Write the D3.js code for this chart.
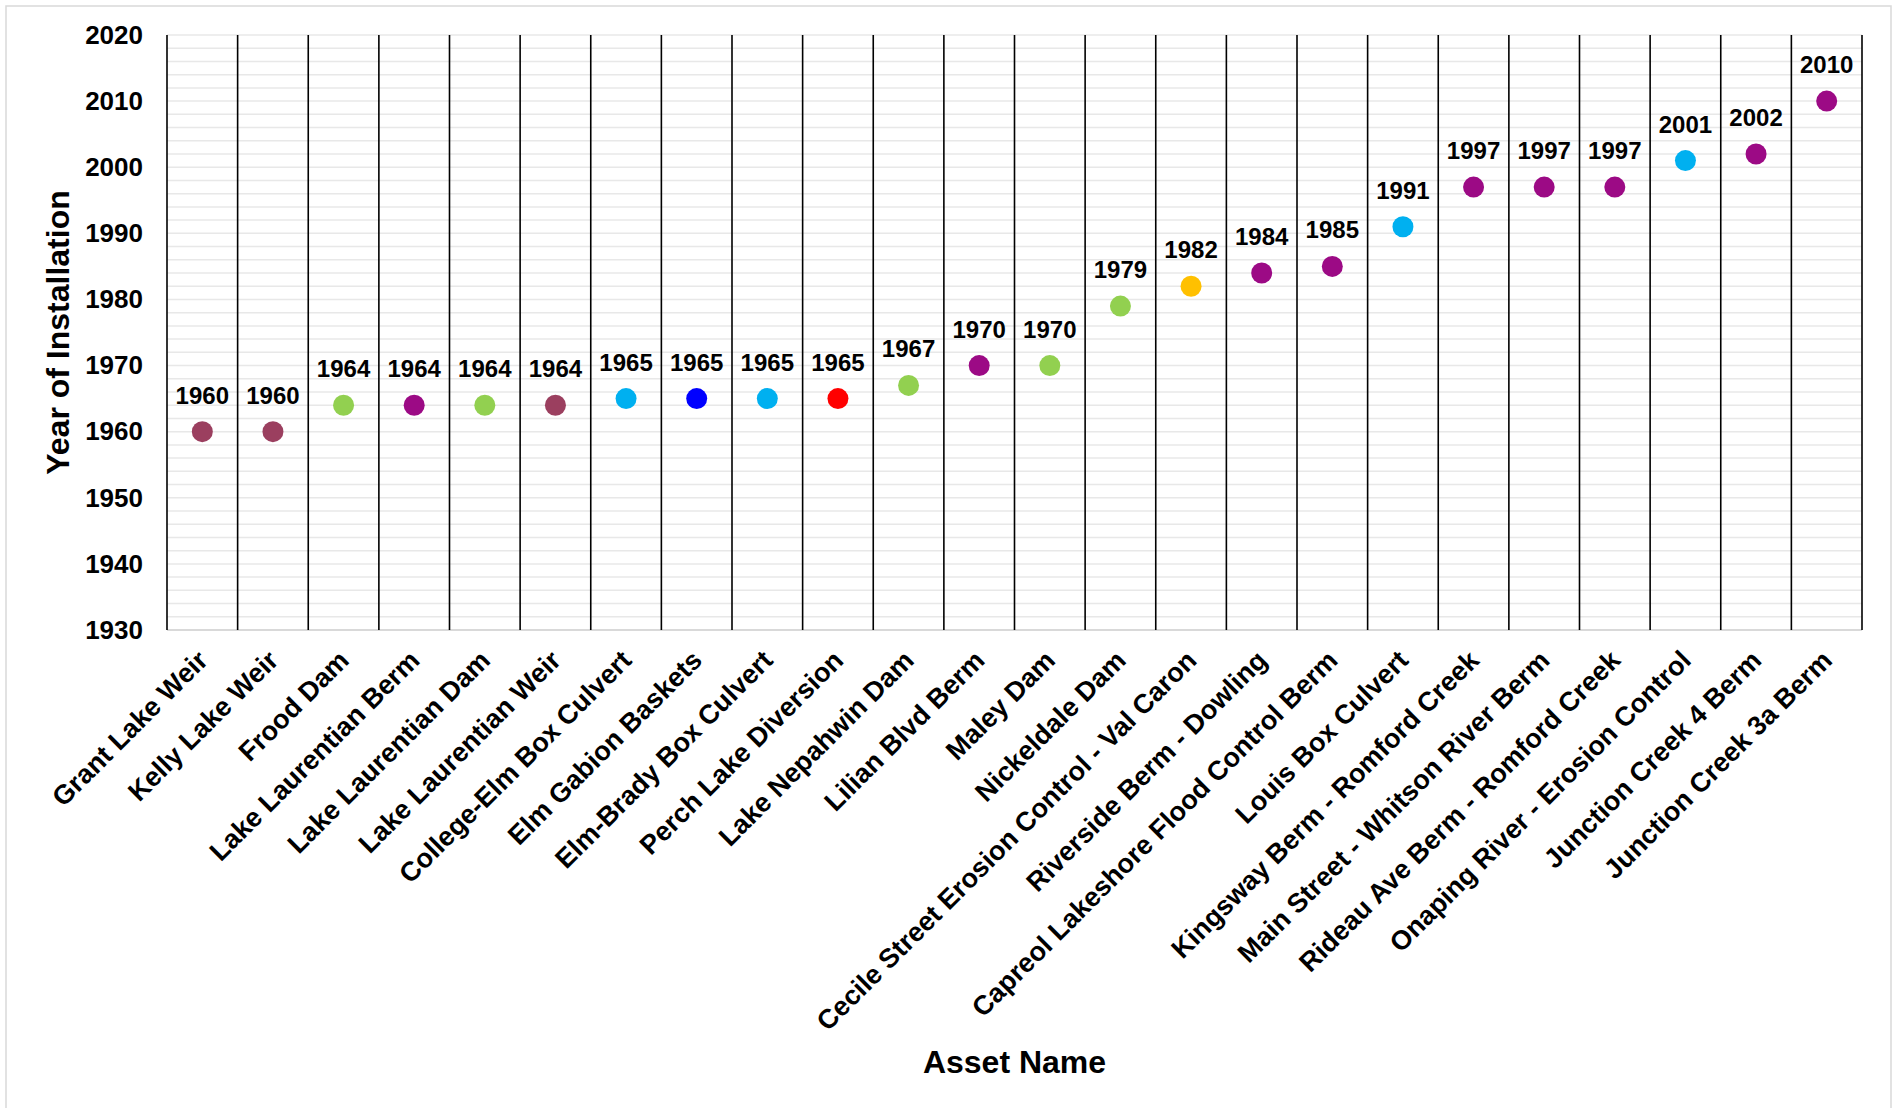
<!DOCTYPE html>
<html>
<head>
<meta charset="utf-8">
<script src="https://cdn.jsdelivr.net/npm/d3@7"></script>
<style>
  body { margin: 0; background: #fff; }
  svg { display: block; font-family: "Liberation Sans", Arial, sans-serif; font-weight: bold; }
</style>
</head>
<body>
<svg></svg>
<script>
var width = 1898;
var height = 1108;

var assets = [
  "Grant Lake Weir", "Kelly Lake Weir", "Frood Dam", "Lake Laurentian Berm",
  "Lake Laurentian Dam", "Lake Laurentian Weir", "College-Elm Box Culvert",
  "Elm Gabion Baskets", "Elm-Brady Box Culvert", "Perch Lake Diversion",
  "Lake Nepahwin Dam", "Lilian Blvd Berm", "Maley Dam", "Nickeldale Dam",
  "Cecile Street Erosion Control - Val Caron", "Riverside Berm - Dowling",
  "Capreol Lakeshore Flood Control Berm", "Louis Box Culvert",
  "Kingsway Berm - Romford Creek", "Main Street - Whitson River Berm",
  "Rideau Ave Berm - Romford Creek", "Onaping River - Erosion Control",
  "Junction Creek 4 Berm", "Junction Creek 3a Berm"
];

var years = [1960, 1960, 1964, 1964, 1964, 1964, 1965, 1965, 1965, 1965,
             1967, 1970, 1970, 1979, 1982, 1984, 1985, 1991, 1997, 1997,
             1997, 2001, 2002, 2010];

var colors = ["#9b3f5f", "#9b3f5f", "#92d050", "#9c0a85", "#92d050", "#9b3f5f",
              "#00b0f0", "#0000ff", "#00b0f0", "#ff0000", "#92d050", "#9c0a85",
              "#92d050", "#92d050", "#ffc000", "#9c0a85", "#9c0a85", "#00b0f0",
              "#9c0a85", "#9c0a85", "#9c0a85", "#00b0f0", "#9c0a85", "#9c0a85"];

var yTicks = [1930, 1940, 1950, 1960, 1970, 1980, 1990, 2000, 2010, 2020];

var points = assets.map((a, i) => ({ name: a, year: years[i], color: colors[i] }));

var svg = d3.select("svg")
            .attr("width", width)
            .attr("height", height);

// outer chart border
svg.append("rect")
   .attr("x", 6).attr("y", 6)
   .attr("width", 1885).attr("height", 1120)
   .attr("fill", "#fff")
   .attr("stroke", "#d9d9d9")
   .attr("stroke-width", 1.5);

var x = d3.scaleBand().domain(assets).range([167, 1862]);
var y = d3.scaleLinear().domain([1930, 2020]).range([630, 35]);

// light horizontal gridlines every 2 years
svg.append("g")
   .selectAll("line")
   .data(d3.range(1932, 2021, 2))
   .enter()
   .append("line")
     .attr("x1", 167).attr("x2", 1862)
     .attr("y1", d => y(d)).attr("y2", d => y(d))
     .attr("stroke", "#e8e8e8")
     .attr("stroke-width", 1.5);

// bottom axis line
svg.append("line")
   .attr("x1", 167).attr("x2", 1862)
   .attr("y1", y(1930)).attr("y2", y(1930))
   .attr("stroke", "#d9d9d9")
   .attr("stroke-width", 2);

// black separators between categories
var bounds = assets.map(a => x(a)).concat([x.range()[1]]);
svg.append("g")
   .selectAll("line")
   .data(bounds)
   .enter()
   .append("line")
     .attr("x1", d => d).attr("x2", d => d)
     .attr("y1", y(2020)).attr("y2", y(1930))
     .attr("stroke", "#000")
     .attr("stroke-width", 1.6);

// y axis
var yAxis = svg.append("g")
   .attr("transform", "translate(167,0)")
   .call(d3.axisLeft(y).tickValues(yTicks).tickFormat(d3.format("d")).tickSize(0).tickPadding(24));
yAxis.select(".domain").remove();
yAxis.selectAll("text")
     .attr("font-size", 26)
     .attr("font-weight", "bold")
     .attr("font-family", "Liberation Sans, Arial, sans-serif")
     .attr("fill", "#000");

// x axis
var xAxis = svg.append("g")
   .attr("transform", "translate(0," + y(1930) + ")")
   .call(d3.axisBottom(x).tickSize(0));
xAxis.select(".domain").remove();
xAxis.selectAll("text")
     .attr("font-size", 27)
     .attr("font-weight", "bold")
     .attr("font-family", "Liberation Sans, Arial, sans-serif")
     .attr("fill", "#000")
     .attr("y", 0)
     .attr("dy", null)
     .attr("text-anchor", "end")
     .attr("transform", "translate(7,32) rotate(-45)");

// points
svg.append("g")
   .selectAll("circle")
   .data(points)
   .enter()
   .append("circle")
     .attr("cx", d => x(d.name) + x.bandwidth() / 2)
     .attr("cy", d => y(d.year))
     .attr("r", 10.5)
     .attr("fill", d => d.color);

// data labels
svg.append("g")
   .selectAll("text")
   .data(points)
   .enter()
   .append("text")
     .attr("x", d => x(d.name) + x.bandwidth() / 2)
     .attr("y", d => y(d.year) - 28)
     .attr("text-anchor", "middle")
     .attr("font-size", 24)
     .text(d => d.year);

// axis titles
svg.append("text")
   .attr("transform", "translate(69," + (y(1975)) + ") rotate(-90)")
   .attr("text-anchor", "middle")
   .attr("font-size", 32)
   .text("Year of Installation");

svg.append("text")
   .attr("x", (167 + 1862) / 2)
   .attr("y", 1073)
   .attr("text-anchor", "middle")
   .attr("font-size", 32)
   .text("Asset Name");
</script>
</body>
</html>
